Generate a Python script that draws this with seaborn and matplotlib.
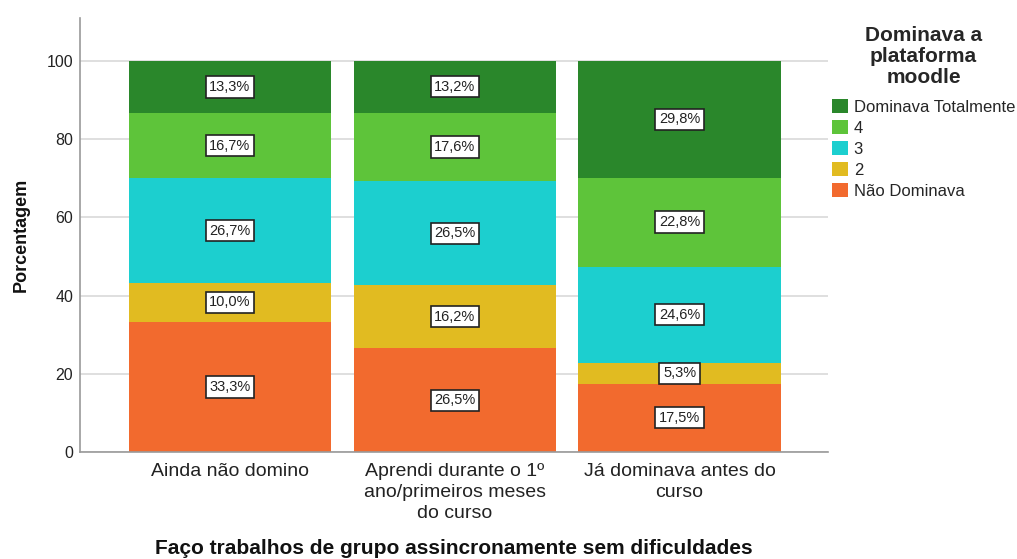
import matplotlib
matplotlib.use("Agg")
import matplotlib.pyplot as plt
import seaborn as sns
import pandas as pd
import numpy as np
from matplotlib.patches import Patch

categories = ["Ainda não domino",
              "Aprendi durante o 1º\nano/primeiros meses\ndo curso",
              "Já dominava antes do\ncurso"]
levels = ["Não Dominava", "2", "3", "4", "Dominava Totalmente"]
nao_dominava = [33.3, 26.5, 17.5]
nivel_2 = [10.0, 16.2, 5.3]
nivel_3 = [26.7, 26.5, 24.6]
nivel_4 = [16.7, 17.6, 22.8]
dominava_totalmente = [13.3, 13.2, 29.8]
series = [nao_dominava, nivel_2, nivel_3, nivel_4, dominava_totalmente]
colors = ["#f26a2e", "#e1bb21", "#1ccfcf", "#5ec43a", "#2a872b"]

sns.set_theme(style="white")
plt.rcParams['font.family'] = ['Liberation Sans', 'DejaVu Sans']

fig = plt.figure(figsize=(10.17, 5.59), dpi=100)
ax = fig.add_axes([80/1017, 1-452/559, (828-80)/1017, (452-18)/559])

vals = np.array(series)
cum = np.cumsum(vals, axis=0)

# draw from top (largest cumulative) down
for i in range(len(levels)-1, -1, -1):
    df = pd.DataFrame({"cat": categories, "val": cum[i]})
    sns.barplot(data=df, x="cat", y="val", color=colors[i], saturation=1,
                width=0.9, ax=ax, zorder=2, linewidth=0, errorbar=None)

# labels
for i in range(len(levels)):
    for j in range(len(categories)):
        v = vals[i, j]
        y = cum[i, j] - v/2
        ax.text(j, y, f"{v:.1f}%".replace(".", ","), ha="center", va="center",
                fontsize=10.5, color="#222222", zorder=5,
                bbox=dict(boxstyle="square,pad=0.25", fc="white", ec="#222222", lw=1.2))

ax.set_ylim(0, 111)
ax.set_xlim(-0.667, 2.66)
ax.set_yticks([0, 20, 40, 60, 80, 100])
ax.yaxis.grid(True, color="#d9d9d9", lw=1.2, zorder=0)
ax.set_axisbelow(True)
for s in ["top", "right"]:
    ax.spines[s].set_visible(False)
for s in ["left", "bottom"]:
    ax.spines[s].set_color("#9a9a9a")
    ax.spines[s].set_linewidth(1.2)
ax.tick_params(axis="y", length=0, labelsize=11.5, pad=5, labelcolor="#222222")
ax.tick_params(axis="x", length=0, labelsize=14, pad=8, labelcolor="#222222")
for t in ax.get_xticklabels():
    t.set_linespacing(1.3)
ax.set_ylabel("Porcentagem", fontsize=13, fontweight="bold", color="#111111", va="center")
ax.yaxis.set_label_coords(-(80-21)/748, 0.5)
ax.set_xlabel("Faço trabalhos de grupo assincronamente sem dificuldades",
              fontsize=15, fontweight="bold", color="#111111", va="center")
ax.xaxis.set_label_coords(0.5, -(548-452)/434)

handles = [Patch(facecolor=colors[i], edgecolor="none") for i in range(len(levels)-1, -1, -1)]
labs = [levels[i] for i in range(len(levels)-1, -1, -1)]
leg = fig.legend(handles, labs, title="Dominava a\nplataforma\nmoodle",
                 loc="upper left", bbox_to_anchor=(832/1017, 1-26/559),
                 frameon=False, fontsize=12, handlelength=0.95, handleheight=0.95,
                 handletextpad=0.35, labelspacing=0.3, borderaxespad=0, borderpad=0,
                 title_fontproperties={"weight": "bold", "size": 15})
leg.get_title().set_multialignment("center")
leg.get_title().set_linespacing(1.12)
leg._legend_box.align = "center"
leg._legend_box.sep = 9

fig.savefig("out.png", dpi=100)
